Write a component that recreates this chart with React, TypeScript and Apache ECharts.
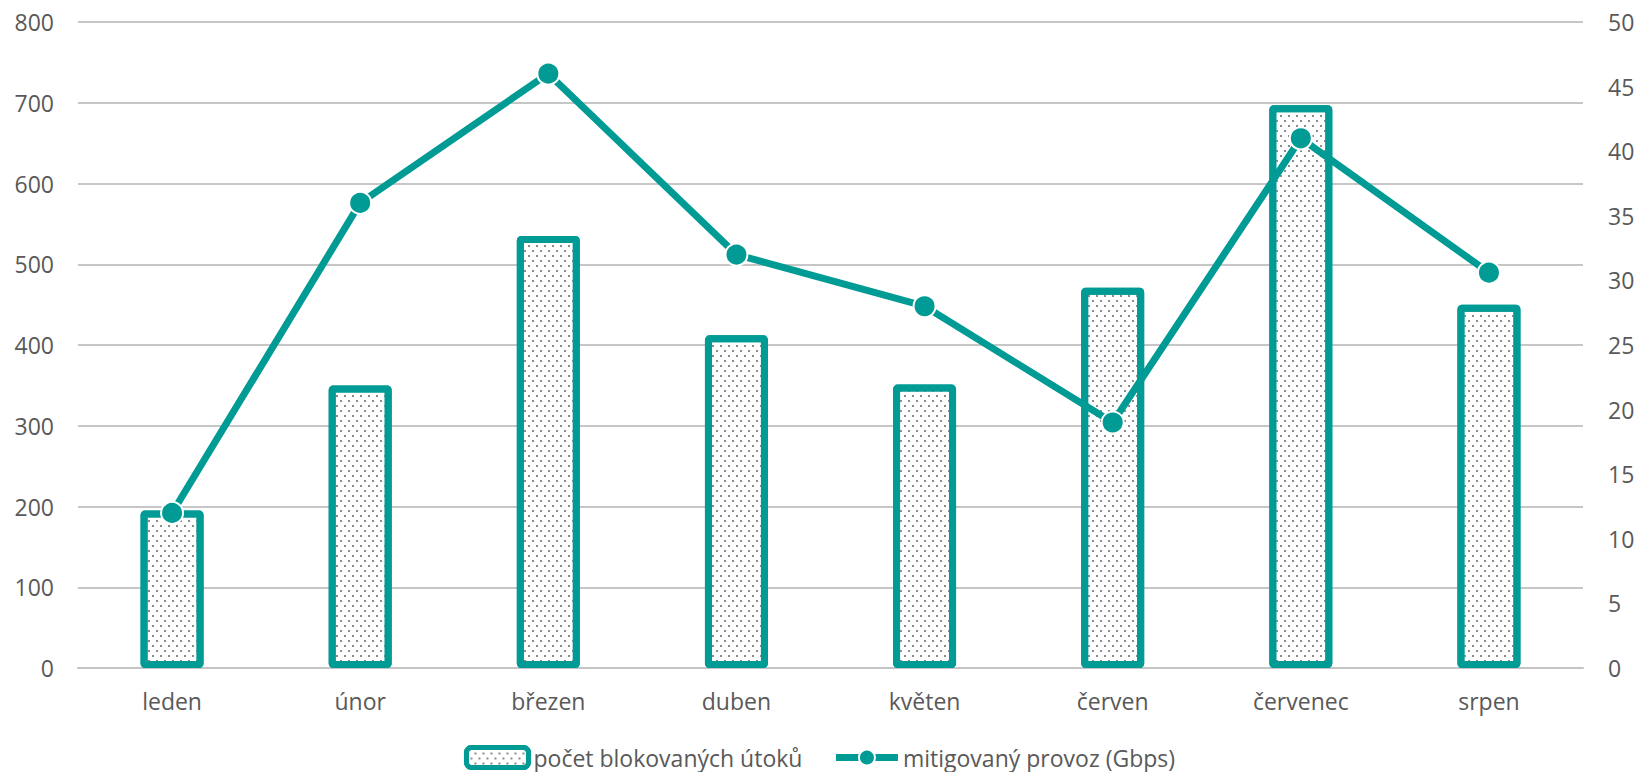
import React, { useEffect, useRef } from 'react';
import * as echarts from 'echarts';

const categories = ['leden', 'únor', 'březen', 'duben', 'květen', 'červen', 'červenec', 'srpen'];
const blockedAttacks = [195, 350, 535, 412, 351, 471, 697, 450];
const mitigatedGbps = [12, 36, 46, 32, 28, 19, 41, 30.6];
const seriesNames = ['počet blokovaných útoků', 'mitigovaný provoz (Gbps)'];

const TEAL = '#009B95';
const LABEL = '#595959';
const FONT = '"Open Sans", Lato, sans-serif';

export default function App() {
  const ref = useRef<HTMLDivElement>(null);
  useEffect(() => {
    const chart = echarts.init(ref.current!, null, { renderer: 'svg' });
    chart.setOption({
      animation: false,
      backgroundColor: '#ffffff',
      textStyle: { fontFamily: FONT },
      grid: { left: 78, right: 56, top: 22, bottom: 104, containLabel: false },
      legend: {
        top: 740,
        left: 'center',
        itemWidth: 62,
        itemHeight: 20,
        itemGap: 30,
        textStyle: { fontSize: 23, color: LABEL, fontFamily: FONT },
        lineStyle: { width: 7 },
        data: [
          { name: seriesNames[0], itemStyle: { borderWidth: 5 } },
          { name: seriesNames[1] },
        ],
      },
      xAxis: {
        type: 'category',
        data: categories,
        axisTick: { show: false },
        axisLine: { lineStyle: { color: '#c4c4c4', width: 2 } },
        axisLabel: { color: LABEL, fontSize: 23, margin: 21, fontFamily: FONT },
      },
      yAxis: [
        {
          type: 'value',
          min: 0,
          max: 800,
          interval: 100,
          axisLine: { show: false },
          axisTick: { show: false },
          axisLabel: { color: LABEL, fontSize: 23, margin: 24, fontFamily: FONT },
          splitLine: { lineStyle: { color: '#b3b3b3', width: 1.5 } },
        },
        {
          type: 'value',
          min: 0,
          max: 50,
          interval: 5,
          axisLine: { show: false },
          axisTick: { show: false },
          axisLabel: { color: LABEL, fontSize: 23, margin: 25, fontFamily: FONT },
          splitLine: { show: false },
        },
      ],
      series: [
        {
          name: seriesNames[0],
          type: 'bar',
          data: blockedAttacks,
          barWidth: 63,
          itemStyle: {
            color: '#ffffff',
            borderColor: TEAL,
            borderWidth: 7,
            borderRadius: 1,
            decal: {
              symbol: 'rect',
              symbolSize: 1,
              color: '#8c8c8c',
              dashArrayX: [[2, 6], [0, 4, 2, 2]],
              dashArrayY: [2, 3],
              rotation: 0,
            },
          },
        },
        {
          name: seriesNames[1],
          type: 'line',
          yAxisIndex: 1,
          data: mitigatedGbps,
          symbol: 'circle',
          symbolSize: 22,
          lineStyle: { color: TEAL, width: 7 },
          itemStyle: { color: TEAL, borderColor: '#ffffff', borderWidth: 2 },
          z: 5,
        },
      ],
    });
    return () => chart.dispose();
  }, []);
  return (
    <div
      ref={ref}
      style={{ position: 'fixed', left: 0, top: 0, width: 1639, height: 772, background: '#fff' }}
    />
  );
}
